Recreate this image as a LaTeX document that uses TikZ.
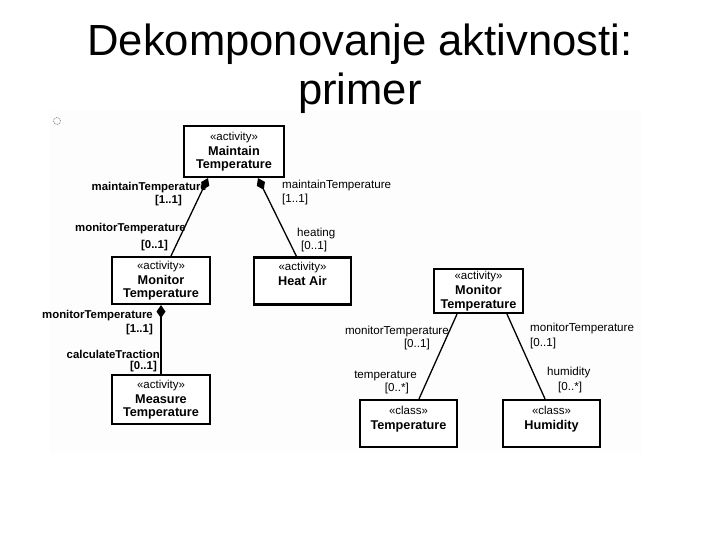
\documentclass[tikz,border=0pt]{standalone}
\usepackage{fontspec}
\setmainfont{Liberation Sans}
\usetikzlibrary{arrows.meta}
\newcommand\stereo[1]{{\mdseries\fontsize{11.5}{14}\selectfont «#1»}\\[1.5pt]}
\begin{document}
\begin{tikzpicture}[x=1pt,y=-1pt,
  box/.style={draw, line width=2.2pt, fill=white, align=center, inner sep=1pt,
    font=\fontsize{12.7}{13.5}\selectfont\bfseries},
  conn/.style={line width=1.3pt},
  comp/.style={conn, {Diamond[length=13pt,width=9pt]}-},
  lbl/.style={inner sep=0pt, font=\fontsize{11.6}{13}\selectfont},
  lblb/.style={inner sep=0pt, font=\fontsize{11.4}{13}\selectfont\bfseries},
  ttl/.style={inner sep=0pt, font=\fontsize{43.6}{48}\selectfont}]
\useasboundingbox (0,0) rectangle (720,540);
\fill[black!0.8] (50,110) rectangle (642,453);
\draw[gray, densely dotted, line width=0.8pt] (57,121) circle (3.5pt);

% title
\node[ttl, anchor=base] (t1) at (360,56) {Dekomponovanje aktivnosti:};
\node[ttl, anchor=base] (t2) at (360,105) {primer};

% boxes
\node[box, minimum width=100pt, minimum height=51pt] (mt) at (234,151.5) {\stereo{activity}Maintain\\Temperature};
\node[box, minimum width=98pt, minimum height=47pt] (monL) at (161,280.5) {\stereo{activity}Monitor\\Temperature};
\node[box, minimum width=97pt, minimum height=47pt, text depth=14pt] (heat) at (302.5,281) {\stereo{activity}Heat Air};
\node[box, minimum width=98pt, minimum height=49pt] (meas) at (161,399.5) {\stereo{activity}Measure\\Temperature};
\node[box, minimum width=89pt, minimum height=44pt] (monR) at (478.5,291) {\stereo{activity}Monitor\\Temperature};
\node[box, minimum width=97pt, minimum height=47pt, text depth=11.5pt] (temp) at (408.5,423.5) {\stereo{class}Temperature};
\node[box, minimum width=97pt, minimum height=47pt, text depth=11.5pt] (hum) at (551.5,423.5) {\stereo{class}Humidity};

% connectors
\draw[comp] ([xshift=-26pt]mt.south) -- ([xshift=10pt]monL.north);
\draw[comp] ([xshift=24pt]mt.south) -- ([xshift=-6pt]heat.north);
\draw[comp] (monL.south) -- (meas.north);
\draw[conn] ([xshift=-21.5pt]monR.south) -- ([xshift=10.5pt]temp.north);
\draw[conn] ([xshift=28.5pt]monR.south) -- ([xshift=-6.5pt]hum.north);

% labels
\node[lblb, anchor=east] (a1) at (207,188) {maintainTemperature};
\node[lblb, anchor=east] (a2) at (182,201) {[1..1]};
\node[lblb, anchor=east] (a3) at (186,229) {monitorTemperature};
\node[lblb, anchor=east] (a4) at (168,246) {[0..1]};
\node[lbl, anchor=west] (b1) at (282,186) {maintainTemperature};
\node[lbl, anchor=west] (b2) at (282,200) {[1..1]};
\node[lbl, anchor=west] (b3) at (297,234) {heating};
\node[lbl, anchor=west] (b4) at (301,247) {[0..1]};
\node[lblb, anchor=east] (c1) at (153,316) {monitorTemperature};
\node[lblb, anchor=east] (c2) at (153,330) {[1..1]};
\node[lblb, anchor=east] (c3) at (160,354) {calculateTraction};
\node[lblb, anchor=east] (c4) at (157,367) {[0..1]};
\node[lbl, anchor=east] (d1) at (449,331) {monitorTemperature};
\node[lbl, anchor=east] (d2) at (430,344) {[0..1]};
\node[lbl, anchor=east] (d3) at (417,376) {temperature};
\node[lbl, anchor=east] (d4) at (409,388) {[0..*]};
\node[lbl, anchor=west] (e1) at (530,328) {monitorTemperature};
\node[lbl, anchor=west] (e2) at (530,343) {[0..1]};
\node[lbl, anchor=west] (e3) at (547,372) {humidity};
\node[lbl, anchor=west] (e4) at (558,387) {[0..*]};
\end{tikzpicture}
\end{document}
